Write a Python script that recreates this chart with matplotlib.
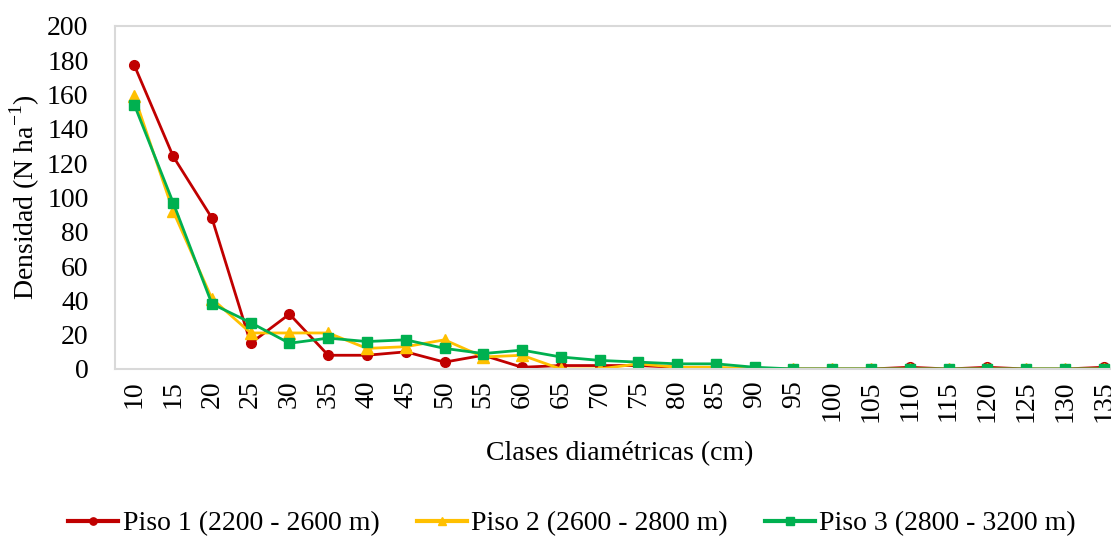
import numpy as np
import matplotlib.pyplot as plt

plt.rcParams['font.family'] = ['Liberation Serif', 'DejaVu Serif']
plt.rcParams['mathtext.fontset'] = 'custom'
plt.rcParams['mathtext.rm'] = 'Liberation Serif'

clases = [10, 15, 20, 25, 30, 35, 40, 45, 50, 55, 60, 65, 70, 75, 80, 85, 90,
          95, 100, 105, 110, 115, 120, 125, 130, 135]
piso1 = [177, 124, 88, 15, 32, 8, 8, 10, 4, 8, 1, 2, 2, 2, 1, 0, 0,
         0, 0, 0, 1, 0, 1, 0, 0, 1]
piso2 = [159, 92, 41, 21, 21, 21, 12, 13, 17, 7, 8, 0, 0, 3, 1, 1, 0,
         0, 0, 0, 0, 0, 0, 0, 0, 0]
piso3 = [154, 97, 38, 27, 15, 18, 16, 17, 12, 9, 11, 7, 5, 4, 3, 3, 1,
         0, 0, 0, 0, 0, 0, 0, 0, 0]

fig = plt.figure(figsize=(11.11, 5.4), dpi=100)
ax = fig.add_axes([0.1035, 0.3167, 0.9073, 0.6352])

x = np.arange(len(clases))
ax.plot(x, piso1, color='#C00000', marker='o', markersize=7, linewidth=2,
        label='Piso 1 (2200 - 2600 m)')
ax.plot(x, piso2, color='#FFC000', marker='^', markersize=8, linewidth=2,
        label='Piso 2 (2600 - 2800 m)')
ax.plot(x, piso3, color='#00B050', marker='s', markersize=7, linewidth=2,
        label='Piso 3 (2800 - 3200 m)')

ax.set_xlim(-0.5, len(clases) - 0.5)
ax.set_ylim(0, 200)
ax.set_yticks(range(0, 201, 20))
ax.set_xticks(x)
ax.set_xticklabels([str(c) for c in clases], rotation=90)
ax.tick_params(axis='y', length=0, pad=19, labelsize=20)
ax.tick_params(axis='x', length=0, pad=8, labelsize=20)

for s in ax.spines.values():
    s.set_color('#d9d9d9')
    s.set_linewidth(1.5)

ax.set_ylabel(r'Densidad (N ha$^{\mathrm{-1}}$)', fontsize=20, labelpad=4)
fig.text(0.558, 0.16, 'Clases diamétricas (cm)', fontsize=20, ha='center', va='center')

leg = fig.legend(loc='center', bbox_to_anchor=(0.515, 0.03), ncol=3, frameon=False,
                 fontsize=20, handlelength=1.8, handletextpad=0.15, columnspacing=1.35,
                 markerscale=0.75)
for h in leg.get_lines():
    h.set_linewidth(3)

fig.savefig('out.png', dpi=100)
